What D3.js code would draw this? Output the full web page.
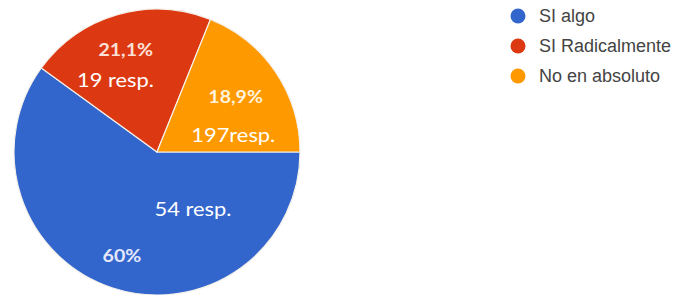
<!DOCTYPE html>
<html>
<head>
<meta charset="utf-8">
<script src="https://cdn.jsdelivr.net/npm/d3@7"></script>
<style>
  body { margin: 0; background: #fff; }
  svg { display: block; }
</style>
</head>
<body>
<script>
// data
var categories = ["SI algo", "SI Radicalmente", "No en absoluto"];
var values = [60, 21.1, 18.9];
var pctLabels = ["60%", "21,1%", "18,9%"];
var respLabels = ["54 resp.", "19 resp.", "197resp."];
var colors = ["#3366cc", "#dc3912", "#ff9900"];

var width = 681,
	height = 295,
	radius = 143,
	cx = 157,
	cy = 152;

// label placement (polar: degrees clockwise from top, radius)
var pctPos  = [[198.6, 110], [-17, 107], [55, 96]];
var respPos = [[148, 68], [-30, 83], [78, 78]];

var svg = d3.select("body").append("svg")
	.attr("width", width)
	.attr("height", height);

var g = svg.append("g")
	.attr("transform", "translate(" + cx + "," + cy + ")");

var pie = d3.pie()
	.sort(null)
	.startAngle(Math.PI / 2)
	.endAngle(Math.PI / 2 + 2 * Math.PI);

var arc = d3.arc().innerRadius(0).outerRadius(radius);

var slices = g.selectAll(".slice")
	.data(pie(values))
	.enter()
	.append("g")
	.attr("class", "slice");

slices.append("path")
	.attr("d", arc)
	.style("fill", function(d, i){ return colors[i]; })
	.style("stroke", "#f4f0ea")
	.style("stroke-width", 1.2);

function polar(p){
	var a = p[0] * Math.PI / 180;
	return [Math.sin(a) * p[1], -Math.cos(a) * p[1]];
}

// text in the picture is a bit wider than tall, so stretch it
function place(pos){
	return function(d, i){
		var p = polar(pos[i]);
		return "translate(" + p[0] + "," + p[1] + ") scale(1.15,1)";
	};
}

slices.append("text")
	.attr("transform", place(pctPos))
	.attr("dy", ".35em")
	.attr("text-anchor", "middle")
	.style("font-family", "Lato, sans-serif")
	.style("font-weight", "bold")
	.style("font-size", "17px")
	.style("fill", function(d, i){ return i == 1 ? "#fde0d8" : (i == 0 ? "#e4e8fa" : "#fff2dc"); })
	.text(function(d, i){ return pctLabels[i]; });

slices.append("text")
	.attr("transform", place(respPos))
	.attr("dy", ".35em")
	.attr("text-anchor", "middle")
	.style("font-family", "Lato, sans-serif")
	.style("font-size", "19px")
	.style("fill", "#fff")
	.text(function(d, i){ return respLabels[i]; });

// legend
var legend = svg.selectAll(".legend")
	.data(categories)
	.enter()
	.append("g")
	.attr("class", "legend")
	.attr("transform", function(d, i){ return "translate(518," + (16 + i * 30) + ")"; });

legend.append("circle")
	.attr("r", 7.5)
	.style("fill", function(d, i){ return colors[i]; });

legend.append("text")
	.attr("x", 21)
	.attr("dy", ".35em")
	.style("font-family", "Liberation Sans, Arial, sans-serif")
	.style("font-size", "18px")
	.style("fill", "#444")
	.text(function(d){ return d; });
</script>
</body>
</html>
